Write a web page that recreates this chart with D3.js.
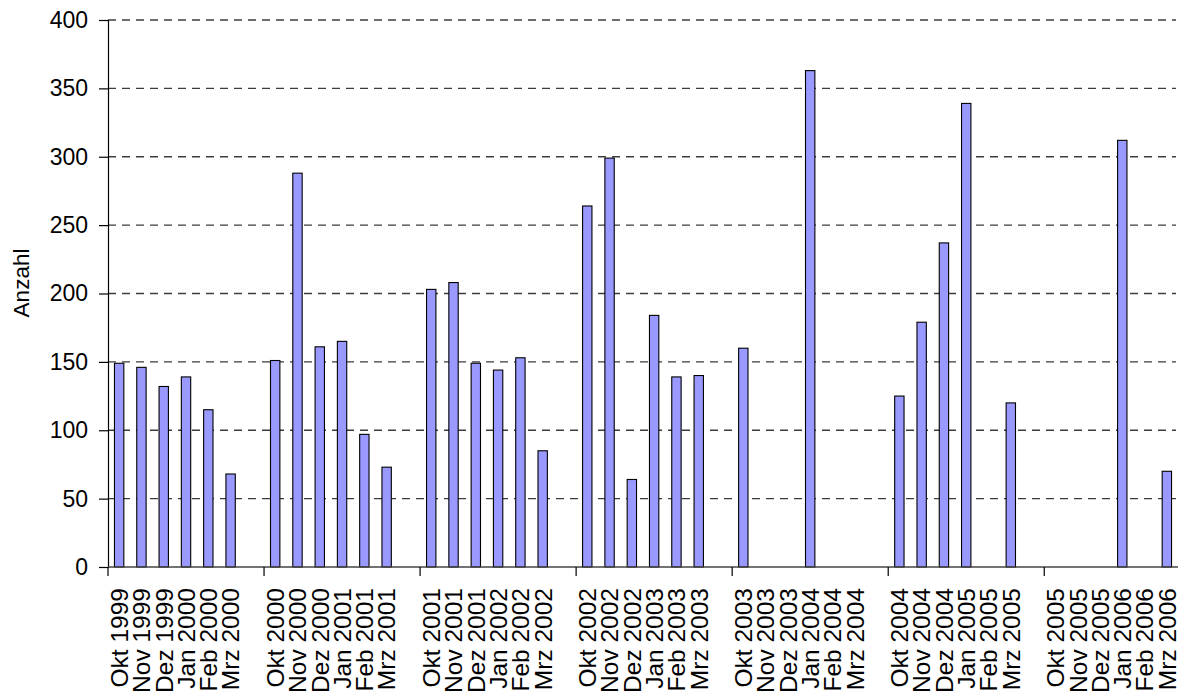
<!DOCTYPE html>
<html>
<head>
<meta charset="utf-8">
<script src="https://cdn.jsdelivr.net/npm/d3@7"></script>
<style>
  html, body { margin: 0; padding: 0; background: #fff; }
  svg { display: block; font-family: "Liberation Sans", Arial, sans-serif; }
</style>
</head>
<body>
<svg id="chart" width="1180" height="695"></svg>
<script>
// ---- data ----
const seasons = ["1999/2000", "2000/2001", "2001/2002", "2002/2003", "2003/2004", "2004/2005", "2005/2006"];
const monthLabels = [
  ["Okt 1999", "Nov 1999", "Dez 1999", "Jan 2000", "Feb 2000", "Mrz 2000"],
  ["Okt 2000", "Nov 2000", "Dez 2000", "Jan 2001", "Feb 2001", "Mrz 2001"],
  ["Okt 2001", "Nov 2001", "Dez 2001", "Jan 2002", "Feb 2002", "Mrz 2002"],
  ["Okt 2002", "Nov 2002", "Dez 2002", "Jan 2003", "Feb 2003", "Mrz 2003"],
  ["Okt 2003", "Nov 2003", "Dez 2003", "Jan 2004", "Feb 2004", "Mrz 2004"],
  ["Okt 2004", "Nov 2004", "Dez 2004", "Jan 2005", "Feb 2005", "Mrz 2005"],
  ["Okt 2005", "Nov 2005", "Dez 2005", "Jan 2006", "Feb 2006", "Mrz 2006"]
];
const values = [
  [149, 146, 132, 139, 115, 68],
  [151, 288, 161, 165, 97, 73],
  [203, 208, 149, 144, 153, 85],
  [264, 299, 64, 184, 139, 140],
  [160, null, null, 363, null, null],
  [125, 179, 237, 339, null, 120],
  [null, null, null, 312, null, 70]
];
const yTicks = [0, 50, 100, 150, 200, 250, 300, 350, 400];
const yTitle = "Anzahl";

// ---- build slots: 6 months per season, one empty slot between seasons ----
const slots = [];
seasons.forEach((s, si) => {
  monthLabels[si].forEach((lab, mi) => {
    slots.push({ id: "s" + si + "m" + mi, label: lab, value: values[si][mi], season: si, first: mi === 0 });
  });
  if (si < seasons.length - 1) slots.push({ id: "gap" + si, label: "", value: null, season: si, gap: true });
});

// ---- layout ----
const svg = d3.select("#chart");
const pL = 108, pR = 1178, pT = 20, pB = 567;

const x = d3.scaleBand().domain(slots.map(d => d.id)).range([pL, pR]).padding(0);
const y = d3.scaleLinear().domain([0, 400]).range([pB, pT]);

// gridlines
svg.append("g").selectAll("line")
  .data(yTicks.filter(t => t > 0))
  .join("line")
  .attr("x1", pL).attr("x2", pR - 2)
  .attr("y1", d => y(d)).attr("y2", d => y(d))
  .attr("stroke", "#3c3c3c").attr("stroke-width", 1.3)
  .attr("stroke-dasharray", "8,6");

// bars
const bw = x.bandwidth() * 0.42;
svg.append("g").selectAll("rect")
  .data(slots.filter(d => d.value != null))
  .join("rect")
  .attr("x", d => x(d.id) + x.bandwidth() / 2 - bw / 2)
  .attr("width", bw)
  .attr("y", d => y(d.value))
  .attr("height", d => y(0) - y(d.value))
  .attr("fill", "#9999FF")
  .attr("stroke", "#000")
  .attr("stroke-width", 1.1);

// y axis
const yAxis = d3.axisLeft(y).tickValues(yTicks).tickSize(9).tickPadding(11);
const gy = svg.append("g").attr("transform", `translate(${pL},0)`).call(yAxis);
gy.select(".domain").attr("stroke", "#000").attr("stroke-width", 1.2);
gy.selectAll(".tick line").attr("stroke", "#000").attr("stroke-width", 1.2);
gy.selectAll(".tick text")
  .attr("font-size", 23)
  .attr("fill", "#000")
  .attr("font-family", "Liberation Sans, Arial, sans-serif");

// x axis line
svg.append("line")
  .attr("x1", pL).attr("x2", pR)
  .attr("y1", pB).attr("y2", pB)
  .attr("stroke", "#444").attr("stroke-width", 1.5);

// season boundary ticks
const boundaries = slots.filter(d => d.first).map(d => x(d.id));
svg.append("g").selectAll("line")
  .data(boundaries)
  .join("line")
  .attr("x1", d => d).attr("x2", d => d)
  .attr("y1", pB).attr("y2", pB + 9)
  .attr("stroke", "#000").attr("stroke-width", 1.2);

// x labels (rotated)
svg.append("g").selectAll("text")
  .data(slots.filter(d => !d.gap))
  .join("text")
  .attr("transform", d => `translate(${x(d.id) + x.bandwidth() / 2},${pB + 21}) rotate(-90)`)
  .attr("text-anchor", "end")
  .attr("dy", "0.36em")
  .attr("font-size", 24.5)
  .attr("fill", "#000")
  .text(d => d.label);

// y title
svg.append("text")
  .attr("transform", `translate(29,283) rotate(-90)`)
  .attr("text-anchor", "middle")
  .attr("font-size", 22.5)
  .attr("fill", "#000")
  .text(yTitle);
</script>
</body>
</html>
